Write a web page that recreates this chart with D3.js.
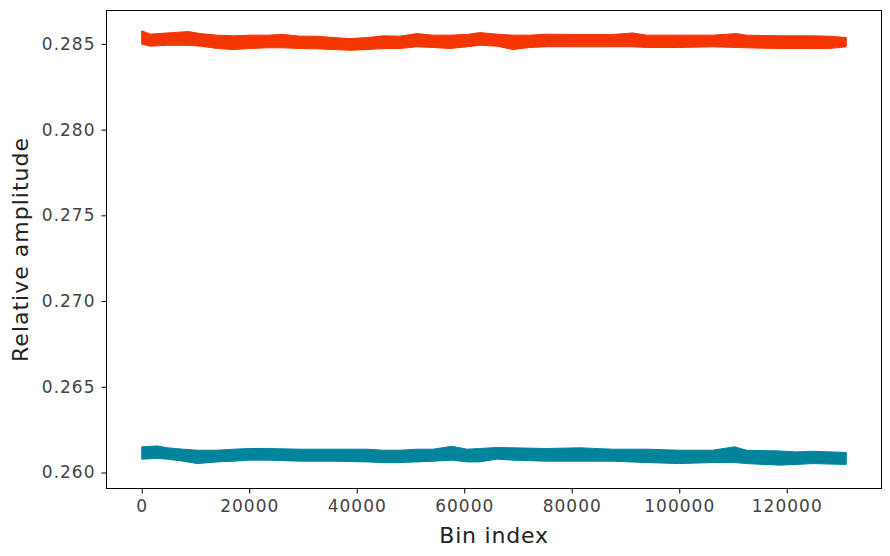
<!DOCTYPE html>
<html><head><meta charset="utf-8">
<script src="https://cdn.jsdelivr.net/npm/d3@7"></script>
<style>body{margin:0;background:#fff}svg{display:block}</style>
</head><body><svg id="c" width="890" height="556"></svg>
<script>
// Data (envelope of a very dense noisy trace)
const orangeBins = [0,1616,4774,8675,10903,14061,17033,20191,23349,26321,29479,32637,35609,38767,41925,44897,48055,51213,54185,57343,60501,62875,66072,69046,72204,75362,81492,87622,91337,93937,100067,106197,110655,112513,118643,124773,127931,131071];
const orangeUpper = [0.28576,0.28557,0.28564,0.28572,0.28560,0.28551,0.28547,0.28551,0.28551,0.28555,0.28545,0.28545,0.28537,0.28531,0.28537,0.28547,0.28545,0.28560,0.28551,0.28551,0.28555,0.28566,0.28557,0.28551,0.28551,0.28557,0.28555,0.28555,0.28564,0.28551,0.28551,0.28551,0.28560,0.28551,0.28547,0.28547,0.28545,0.28537];
const orangeLower = [0.28498,0.28487,0.28492,0.28492,0.28487,0.28473,0.28467,0.28473,0.28477,0.28477,0.28473,0.28471,0.28467,0.28463,0.28467,0.28473,0.28473,0.28483,0.28479,0.28473,0.28483,0.28492,0.28487,0.28467,0.28479,0.28483,0.28483,0.28483,0.28483,0.28479,0.28479,0.28483,0.28479,0.28477,0.28473,0.28473,0.28473,0.28483];

const tealBins = [0,2916,4774,7746,10346,14061,17033,20191,23349,29479,35609,41925,44897,48055,51213,54185,57714,60501,62875,66072,69046,75362,81492,87622,93937,100067,106197,110284,112513,118643,121801,124773,131071];
const tealUpper = [0.26150,0.26155,0.26144,0.26136,0.26130,0.26130,0.26136,0.26140,0.26140,0.26136,0.26136,0.26136,0.26130,0.26130,0.26136,0.26136,0.26153,0.26136,0.26140,0.26146,0.26144,0.26140,0.26144,0.26136,0.26136,0.26130,0.26130,0.26150,0.26130,0.26126,0.26120,0.26124,0.26117];
const tealLower = [0.26078,0.26082,0.26078,0.26066,0.26052,0.26062,0.26066,0.26072,0.26072,0.26066,0.26066,0.26062,0.26058,0.26058,0.26062,0.26066,0.26072,0.26062,0.26062,0.26078,0.26072,0.26066,0.26066,0.26066,0.26058,0.26052,0.26058,0.26058,0.26052,0.26043,0.26047,0.26052,0.26047];

const xTicks = [0,20000,40000,60000,80000,100000,120000];
const yTicks = [0.260,0.265,0.270,0.275,0.280,0.285];
const xDomain = [-6553.6, 137625.6];
const yDomain = [0.259067, 0.286948];

const svg = d3.select("#c");
const L = 106.5, R = 881.5, T = 10.5, B = 488.5;
const x = d3.scaleLinear().domain(xDomain).range([L, R]);
const y = d3.scaleLinear().domain(yDomain).range([B, T]);
const font = "'DejaVu Sans', sans-serif";

function band(bins, up, lo, color) {
  const pts = bins.map((b, i) => ({b, u: up[i], l: lo[i]}));
  svg.append("path").datum(pts)
    .attr("d", d3.area().x(d => x(d.b)).y0(d => y(d.l)).y1(d => y(d.u)))
    .attr("fill", color).attr("stroke", color).attr("stroke-width", 1)
    .attr("stroke-linejoin", "round");
}
band(orangeBins, orangeUpper, orangeLower, "#f43500");
band(tealBins, tealUpper, tealLower, "#00849c");

const xa = svg.append("g").attr("transform", `translate(0,${B})`)
  .call(d3.axisBottom(x).tickValues(xTicks).tickFormat(d3.format("d")).tickSize(5).tickPadding(6));
const ya = svg.append("g").attr("transform", `translate(${L},0)`)
  .call(d3.axisLeft(y).tickValues(yTicks).tickFormat(d3.format(".3f")).tickSize(5).tickPadding(6));
[xa, ya].forEach(g => {
  g.select(".domain").remove();
  g.selectAll("line").attr("stroke", "#000");
  g.selectAll("text").attr("fill", "#444").style("font-family", font).style("font-size", "17px")
    .style("letter-spacing", "1px");
});

svg.append("rect").attr("x", L).attr("y", T).attr("width", R - L).attr("height", B - T)
  .attr("fill", "none").attr("stroke", "#000").attr("stroke-width", 1);

svg.append("text").attr("x", (L + R) / 2).attr("y", 543).attr("text-anchor", "middle")
  .style("font-family", font).style("font-size", "22px").attr("fill", "#222")
  .style("letter-spacing", "0.8px").text("Bin index");
svg.append("text").attr("transform", `translate(28,${(T + B) / 2}) rotate(-90)`)
  .attr("text-anchor", "middle").style("font-family", font).style("font-size", "22px")
  .attr("fill", "#222").style("letter-spacing", "1px").text("Relative amplitude");
</script></body></html>
